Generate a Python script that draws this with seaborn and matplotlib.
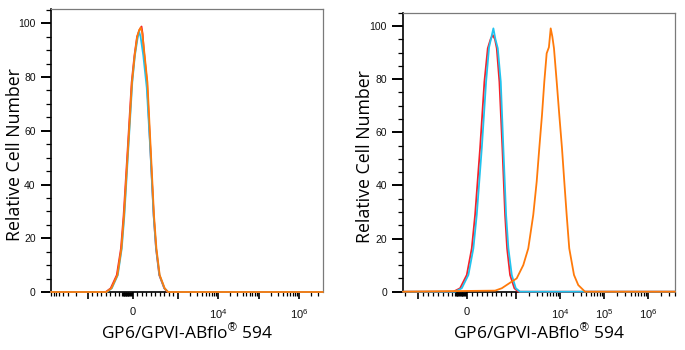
import numpy as np
import pandas as pd
import matplotlib
matplotlib.use("Agg")
import matplotlib.pyplot as plt
import matplotlib.ticker as mticker
import seaborn as sns

# ---------------- data ----------------
# Left panel: three overlapping histograms
left_red_x = [-8100, -600, -490, -355, -262, -203, -112, -24, 38, 96, 150, 196, 220, 245, 318, 392, 466, 518, 590, 700, 775, 3.9e6]
left_red_y = [0, 0, 1.4, 6.3, 16.2, 28.5, 53.3, 78, 88, 95, 97.5, 98.8, 96, 90.3, 78, 53.3, 28.5, 16.2, 6.3, 1.4, 0, 0]
left_cyan_x = [-8100, -575, -465, -332, -244, -186, -98, -10, 48, 104, 140, 175, 235, 312, 390, 465, 520, 595, 705, 790, 3.9e6]
left_cyan_y = [0, 0, 1.4, 6.3, 16.2, 28.5, 53.3, 78, 88, 94, 97.0, 95, 88, 76, 53.3, 28.5, 16.2, 6.3, 1.4, 0, 0]
left_orange_x = [-8100, -584, -473, -340, -251, -193, -104, -16, 44, 100, 144, 178, 211, 251, 327, 400, 473, 527, 600, 711, 784, 3.9e6]
left_orange_y = [0, 0, 1.4, 6.3, 16.2, 28.5, 53.3, 78, 88, 95, 97.5, 98.4, 96.5, 90.3, 78, 53.3, 28.5, 16.2, 6.3, 1.4, 0, 0]

# Right panel
right_red_x = [-2210, -280, -143, -6, 96, 164, 266, 354, 423, 480, 526, 570, 607, 661, 722, 777, 818, 879, 967, 1128, 4.1e6]
right_red_y = [0, 0, 1.3, 6.3, 16.3, 28.9, 54, 79, 91.6, 95, 96.6, 95, 91.6, 79, 54, 28.9, 16.3, 6.3, 1.3, 0, 0]
right_cyan_x = [-2210, -245, -108, 27, 129, 198, 301, 389, 450, 500, 538, 580, 628, 689, 742, 798, 845, 914, 996, 1233, 4.1e6]
right_cyan_y = [0, 0, 1.3, 6.3, 16.3, 28.9, 54, 79, 92, 96, 99.1, 95, 91.6, 79, 54, 28.9, 16.3, 6.3, 1.3, 0, 0]
right_orange_x = [-2210, 573, 710, 914, 1037, 1465, 1904, 2470, 2954, 3385, 3900, 4400, 4980, 5600, 6150,
                  6700, 7300, 8420, 9640, 11100, 12530, 14180, 16230, 20800, 26000, 37000, 4.1e6]
right_orange_y = [0, 0.4, 1.3, 3.8, 5, 10, 16.3, 28.9, 41.4, 54, 66.5, 79, 89.7, 92, 99.1,
                  96, 91.6, 79, 66.5, 54, 41.4, 28.9, 16.3, 6.3, 2.5, 0, 0]

y_ticks = [0, 20, 40, 60, 80, 100]
left_xlabels = {0: "0", 1e4: "$10^{4}$", 1e6: "$10^{6}$"}
right_xlabels = {0: "0", 1e4: "$10^{4}$", 1e5: "$10^{5}$", 1e6: "$10^{6}$"}
x_label = "GP6/GPVI-ABflo$^{\\mathrm{®}}$ 594"
y_label = "Relative Cell Number"

RED = "#f5222a"
CYAN = "#22c3ee"
ORANGE = "#ff7a0a"

# ---------------- style ----------------
sns.set_theme(style="white")
plt.rcParams["font.family"] = ["Open Sans", "DejaVu Sans"]
plt.rcParams["mathtext.fontset"] = "custom"
plt.rcParams["mathtext.rm"] = "Liberation Sans"
plt.rcParams["mathtext.it"] = "Liberation Sans:italic"
plt.rcParams["mathtext.bf"] = "Liberation Sans:bold"

fig = plt.figure(figsize=(6.85, 3.5), dpi=100)
ax1 = fig.add_axes([51 / 685, 58 / 350, 272 / 685, 282.7 / 350])
ax2 = fig.add_axes([403 / 685, 58.3 / 350, 272 / 685, 279 / 350])


def draw(ax, series, xlim, ytop, xlabels, ypad, ylab_x, ylab_y, ytick_len):
    for xs, ys, c in series:
        df = pd.DataFrame({"x": xs, "y": ys})
        sns.lineplot(data=df, x="x", y="y", ax=ax, color=c, lw=1.3,
                     sort=False, estimator=None, clip_on=False, zorder=3)
    ax.set_xscale("symlog", linthresh=1000, linscale=1.0)
    ax.set_xlim(*xlim)
    ax.set_ylim(0, ytop)

    # x ticks
    majors = [-1e3, 1e3, 1e4, 1e5, 1e6]
    majors = sorted(set(majors) | set(xlabels.keys()))
    majors = [m for m in majors if xlim[0] <= m <= xlim[1]]
    ax.xaxis.set_major_locator(mticker.FixedLocator(majors))
    ax.xaxis.set_major_formatter(mticker.FixedFormatter([xlabels.get(m, "") for m in majors]))
    minors = []
    for dec in [1e3, 1e4, 1e5, 1e6]:
        for k in range(2, 10):
            for s in (1, -1):
                v = s * k * dec
                if xlim[0] <= v <= xlim[1]:
                    minors.append(v)
    minors += [v for v in range(-900, 1000, 100) if v != 0]
    minors += list(range(-240, 0, 20))
    ax.xaxis.set_minor_locator(mticker.FixedLocator(minors))

    ax.set_yticks(y_ticks)
    ax.yaxis.set_minor_locator(mticker.MultipleLocator(5))

    ax.tick_params(axis="x", which="major", direction="out", length=5, width=1.2,
                   color="black", pad=6, labelsize=8)
    ax.tick_params(axis="x", which="minor", direction="out", length=3, width=0.9, color="black")
    ax.tick_params(axis="y", which="major", direction="out", length=ytick_len, width=1.4,
                   color="black", pad=ypad, labelsize=7.5)
    ax.tick_params(axis="y", which="minor", direction="out", length=3.5, width=0.9, color="black")
    ax.tick_params(bottom=True, left=True, which="both")
    for lab in ax.get_xticklabels() + ax.get_yticklabels():
        lab.set_fontfamily("Liberation Sans")
        lab.set_color("#111111")

    for side in ["top", "right"]:
        ax.spines[side].set_color("#7a7a7a")
        ax.spines[side].set_linewidth(0.9)
    for side in ["left", "bottom"]:
        ax.spines[side].set_color("black")
        ax.spines[side].set_linewidth(1.2)

    ax.set_xlabel(x_label, fontsize=12.5, color="black", labelpad=1.5)
    ax.set_ylabel(y_label, fontsize=12.8, color="black")
    ax.yaxis.set_label_coords(ylab_x, ylab_y)


draw(ax1, [(left_red_x, left_red_y, RED), (left_cyan_x, left_cyan_y, CYAN),
           (left_orange_x, left_orange_y, ORANGE)], (-8100, 3.9e6), 105.2, left_xlabels,
     4, (24 - 51) / 272, 0.485, 7)
draw(ax2, [(right_red_x, right_red_y, RED), (right_cyan_x, right_cyan_y, CYAN),
           (right_orange_x, right_orange_y, ORANGE)], (-2210, 4.1e6), 105.0, right_xlabels,
     3.5, (374 - 403) / 272, 0.483, 8)

fig.savefig("out.png", dpi=100, facecolor="white")
